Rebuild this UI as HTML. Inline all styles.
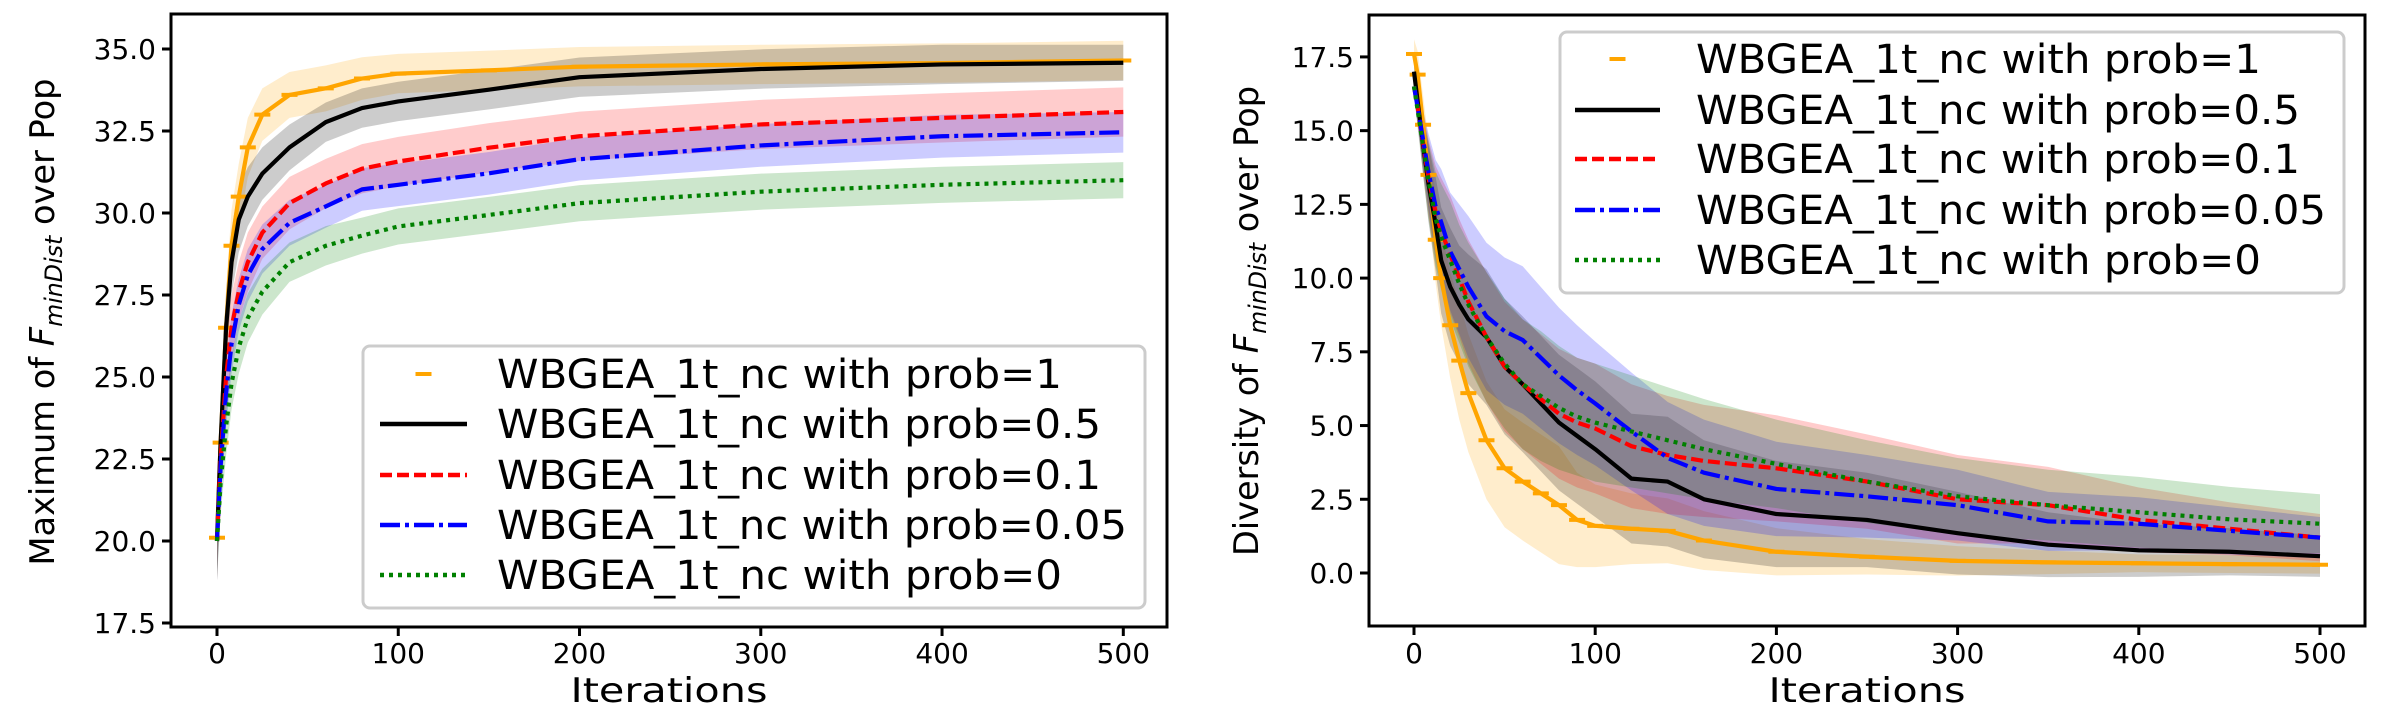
<!DOCTYPE html>
<html><head><meta charset="utf-8"><style>
html,body{margin:0;padding:0;background:#fff}
svg{display:block}
text{font-family:"DejaVu Sans","Liberation Sans",sans-serif;fill:#000}
</style></head><body>
<svg id="fig" width="2386" height="728" viewBox="0 0 2386 728" xmlns="http://www.w3.org/2000/svg">
<g id="left"></g>
<g id="right"></g>
</svg>
<script>
// ---- Left chart data ----
const leftIters = [0,2,5,8,12,17,25,40,60,80,100,150,200,300,400,500];
const leftOrange = [20.1,23,26.5,29,30.5,32,33,33.6,33.8,34.1,34.25,34.35,34.46,34.53,34.57,34.65];
const leftBlack = [20,23,26.5,28.5,29.8,30.5,31.2,32.0,32.77,33.2,33.4,33.76,34.14,34.39,34.53,34.58];
const leftRed = [20,22.5,25,26.5,27.6,28.5,29.4,30.3,30.9,31.35,31.57,31.99,32.34,32.7,32.9,33.08];
const leftBlue = [20,22.3,24.5,26,27.2,28.1,28.9,29.7,30.2,30.72,30.86,31.21,31.64,32.06,32.34,32.46];
const leftGreen = [20,21.8,23.5,24.8,25.9,26.8,27.6,28.5,29.0,29.31,29.59,29.94,30.3,30.65,30.86,31.0];
const leftOrangeSpread = [1.2,1.2,1.2,1.1,1.0,0.9,0.8,0.7,0.7,0.65,0.6,0.6,0.6,0.6,0.6,0.6];
const leftBlackSpread = [1.2,1.2,1.1,1.0,1.0,0.9,0.8,0.7,0.6,0.6,0.6,0.6,0.6,0.6,0.6,0.55];
const leftRedSpread = [1.2,1.2,1.1,1.0,0.9,0.9,0.8,0.8,0.75,0.75,0.75,0.75,0.75,0.75,0.75,0.75];
const leftBlueSpread = [1.2,1.1,1.0,0.9,0.8,0.8,0.75,0.7,0.65,0.65,0.65,0.65,0.65,0.65,0.65,0.62];
const leftGreenSpread = [1.2,1.0,0.9,0.8,0.8,0.75,0.7,0.6,0.6,0.55,0.55,0.55,0.55,0.55,0.55,0.55];
const leftYTicks = [17.5,20.0,22.5,25.0,27.5,30.0,32.5,35.0];
const xTicks = [0,100,200,300,400,500];

// ---- Right chart data ----
const rightIters = [0,2,5,8,12,15,20,25,30,40,50,60,70,80,90,100,120,140,160,200,250,300,350,400,450,500];
const rightOrange = [17.6,16.9,15.2,13.5,11.3,10.0,8.4,7.2,6.1,4.5,3.55,3.1,2.7,2.3,1.8,1.6,1.5,1.43,1.1,0.72,0.55,0.41,0.36,0.33,0.3,0.28];
const rightBlack = [17,16,14.5,13.2,11.8,10.6,9.7,9.1,8.6,8.0,7.0,6.4,5.75,5.1,4.65,4.2,3.2,3.1,2.5,2.0,1.8,1.35,0.96,0.77,0.72,0.57];
const rightRed = [16.5,15.8,14.6,13.4,12.2,11.6,10.8,10.0,9.2,8.0,7.0,6.4,5.9,5.4,5.1,4.9,4.3,4.0,3.8,3.55,3.1,2.5,2.3,1.8,1.5,1.2];
const rightBlue = [16.5,15.8,14.7,13.6,12.4,11.9,10.9,10.3,9.7,8.7,8.2,7.9,7.3,6.7,6.2,5.75,4.8,3.9,3.4,2.85,2.6,2.3,1.75,1.67,1.43,1.2];
const rightGreen = [16.5,15.7,14.5,13.3,12.0,11.4,10.6,9.8,9.1,8.0,7.1,6.4,6.0,5.6,5.3,5.1,4.8,4.5,4.2,3.7,3.1,2.6,2.3,2.06,1.82,1.67];
const rightOrangeSpread = [0.5,0.8,1,1.2,1.5,1.6,1.8,2,2,2,2,2,2,2,1.6,1.4,1.2,1.1,1,0.8,0.6,0.5,0.4,0.3,0.3,0.3];
const rightBlackSpread = [0.3,0.6,1,1.3,1.6,1.8,2,2,2.2,2.3,2.3,2.3,2.3,2.3,2.3,2.3,2.2,2.2,2.0,1.8,1.6,1.4,1.1,0.9,0.8,0.7];
const rightRedSpread = [0.3,0.6,1,1.3,1.6,1.8,2,2,2.1,2.2,2.2,2.2,2.2,2.2,2.2,2.2,2.1,2.0,1.9,1.8,1.6,1.5,1.3,1.1,0.9,0.8];
const rightBlueSpread = [0.3,0.6,1,1.3,1.6,1.8,2,2.2,2.4,2.5,2.5,2.5,2.4,2.3,2.2,2.1,2.0,1.9,1.8,1.6,1.4,1.2,1.0,0.9,0.8,0.7];
const rightGreenSpread = [0.3,0.6,1,1.3,1.6,1.8,2,2,2.1,2.2,2.2,2.2,2.2,2.1,2.0,2.0,1.9,1.8,1.7,1.5,1.4,1.3,1.2,1.2,1.1,1.0];
const rightYTicks = [0.0,2.5,5.0,7.5,10.0,12.5,15.0,17.5];

const legendLabels = ["WBGEA_1t_nc with prob=1","WBGEA_1t_nc with prob=0.5","WBGEA_1t_nc with prob=0.1","WBGEA_1t_nc with prob=0.05","WBGEA_1t_nc with prob=0"];

const NS = "http://www.w3.org/2000/svg";
function mk(parent, tag, attrs){const e=document.createElementNS(NS,tag);for(const k in attrs)e.setAttribute(k,attrs[k]);parent.appendChild(e);return e;}

const seriesStyle = [
  {color:"#ffa500", dash:null, marker:true, key:"prob-1"},
  {color:"#000000", dash:null, key:"prob-0-5"},
  {color:"#ff0000", dash:"12,5", key:"prob-0-1"},
  {color:"#0000ff", dash:"20,5,4,5", key:"prob-0-05"},
  {color:"#008000", dash:"4,5", key:"prob-0"}
];

function drawChart(g, cfg){
  const {box, xs, ys, iters, series, spreads, yTicks, ylabel, legend} = cfg;
  series.forEach((vals,si)=>{
    let up=[],lo=[];
    iters.forEach((it,i)=>{up.push(xs(it)+","+ys(vals[i]+spreads[si][i]));lo.unshift(xs(it)+","+ys(vals[i]-spreads[si][i]));});
    const b=mk(g,"polygon",{points:up.concat(lo).join(" "),fill:seriesStyle[si].color,"fill-opacity":0.2,stroke:"none"});
    
    
  });
  series.forEach((vals,si)=>{
    const st=seriesStyle[si];
    const pts=iters.map((it,i)=>xs(it)+","+ys(vals[i])).join(" ");
    const l=mk(g,"polyline",{points:pts,fill:"none",stroke:st.color,"stroke-width":4.2,"stroke-linejoin":"round"});
    if(st.dash) l.setAttribute("stroke-dasharray",st.dash);
    
    
    if(st.marker){
      iters.forEach((it,i)=>{
        const m=mk(g,"line",{x1:xs(it)-8,x2:xs(it)+8,y1:ys(vals[i]),y2:ys(vals[i]),stroke:st.color,"stroke-width":4});
        
        
      });
    }
  });
  const r=mk(g,"rect",{x:box.x0,y:box.y0,width:box.x1-box.x0,height:box.y1-box.y0,fill:"none",stroke:"#000","stroke-width":3});
  
  
  yTicks.forEach(v=>{
    const y=ys(v);
    const t=mk(g,"line",{x1:box.x0-9,x2:box.x0,y1:y,y2:y,stroke:"#000","stroke-width":3});
    
    
    const tx=mk(g,"text",{x:box.x0-15,y:y+10,"font-size":28,"text-anchor":"end"});
    tx.textContent=v.toFixed(1);
    
    
  });
  xTicks.forEach(v=>{
    const x=xs(v);
    const t=mk(g,"line",{x1:x,x2:x,y1:box.y1,y2:box.y1+9,stroke:"#000","stroke-width":3});
    
    
    const tx=mk(g,"text",{x:x,y:663,"font-size":28,"text-anchor":"middle"});
    tx.textContent=String(v);
    
    
  });
  const xl=mk(g,"text",{x:(box.x0+box.x1)/2,y:702,"font-size":34,"text-anchor":"middle",textLength:197,lengthAdjust:"spacingAndGlyphs"});
  xl.textContent="Iterations";
  
  
  const yl=mk(g,"text",{x:0,y:0,"font-size":34,"text-anchor":"middle",transform:`translate(${ylabel.x},${ylabel.y}) rotate(-90)`,textLength:ylabel.len,lengthAdjust:"spacingAndGlyphs"});
  yl.appendChild(document.createTextNode(ylabel.pre+" "));
  const f=mk(yl,"tspan",{"font-style":"italic"}); f.textContent="F";
  const sub=mk(yl,"tspan",{"font-style":"italic","font-size":24,dy:8}); sub.textContent="minDist";
  const rest=mk(yl,"tspan",{dy:-8}); rest.textContent=" over Pop";
  
  
  const lg=mk(g,"g",{});
  
  
  mk(lg,"rect",{x:legend.x0,y:legend.y0,width:legend.x1-legend.x0,height:legend.y1-legend.y0,rx:7,fill:"#fff","fill-opacity":0.8,stroke:"#cccccc","stroke-width":3});
  legendLabels.forEach((lab,i)=>{
    const cy=legend.ys[i], st=seriesStyle[i];
    const e=mk(lg,"g",{});
    
    
    if(st.marker){
      mk(e,"line",{x1:legend.hx0+(legend.hx1-legend.hx0)/2-8,x2:legend.hx0+(legend.hx1-legend.hx0)/2+8,y1:cy,y2:cy,stroke:st.color,"stroke-width":4});
    } else {
      const l=mk(e,"line",{x1:legend.hx0,x2:legend.hx1,y1:cy,y2:cy,stroke:st.color,"stroke-width":4.5});
      if(st.dash) l.setAttribute("stroke-dasharray",st.dash);
    }
    const t=mk(e,"text",{x:legend.tx,y:cy+14,"font-size":40});
    t.textContent=lab;
    const w=[565,604,604,630,565][i];
    t.setAttribute("textLength",w); t.setAttribute("lengthAdjust","spacingAndGlyphs");
  });
}

(function(){
  const box={x0:171,x1:1167,y0:14,y1:627};
  const xs=i=>217+i*1.8126;
  const ys=v=>49+(35-v)*32.8;
  drawChart(document.getElementById("left"),{box,xs,ys,iters:leftIters,
    series:[leftOrange,leftBlack,leftRed,leftBlue,leftGreen],
    spreads:[leftOrangeSpread,leftBlackSpread,leftRedSpread,leftBlueSpread,leftGreenSpread],
    yTicks:leftYTicks,
    ylabel:{x:54,y:322,len:487,pre:"Maximum of"},
    legend:{x0:363,x1:1145,y0:346,y1:608,ys:[374,424,475,525,575],hx0:380,hx1:467,tx:497}});
})();
(function(){
  const box={x0:1369,x1:2365,y0:15,y1:626};
  const xs=i=>1414+i*1.812;
  const ys=v=>573-v*29.49;
  drawChart(document.getElementById("right"),{box,xs,ys,iters:rightIters,
    series:[rightOrange,rightBlack,rightRed,rightBlue,rightGreen],
    spreads:[rightOrangeSpread,rightBlackSpread,rightRedSpread,rightBlueSpread,rightGreenSpread],
    yTicks:rightYTicks,
    ylabel:{x:1258,y:321,len:470,pre:"Diversity of"},
    legend:{x0:1560,x1:2344,y0:32,y1:293,ys:[59,110,159,210,260],hx0:1575,hx1:1660,tx:1696}});
})();
</script>
</body></html>
